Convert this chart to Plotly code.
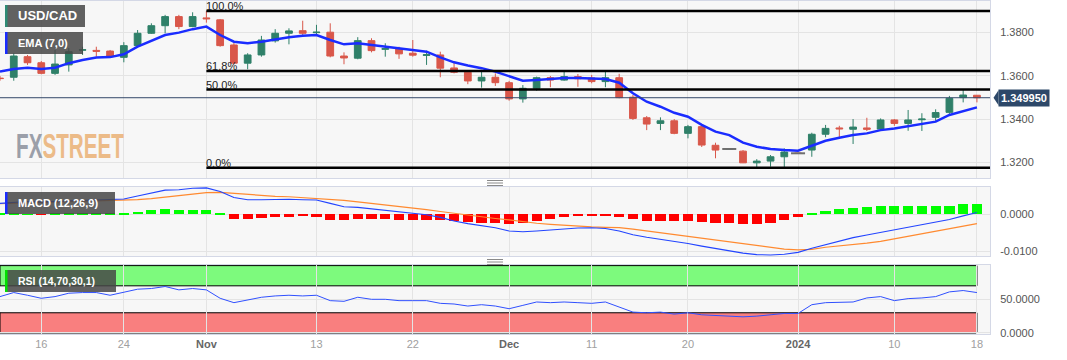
import plotly.graph_objects as go

# ---------------- data ----------------
dates = [
    "2023-10-11", "2023-10-12", "2023-10-13", "2023-10-16", "2023-10-17", "2023-10-18", "2023-10-19",
    "2023-10-20", "2023-10-23", "2023-10-24", "2023-10-25", "2023-10-26", "2023-10-27", "2023-10-30",
    "2023-10-31", "2023-11-01", "2023-11-02", "2023-11-03", "2023-11-06", "2023-11-07", "2023-11-08",
    "2023-11-09", "2023-11-10", "2023-11-13", "2023-11-14", "2023-11-15", "2023-11-16", "2023-11-17",
    "2023-11-20", "2023-11-21", "2023-11-22", "2023-11-23", "2023-11-24", "2023-11-27", "2023-11-28",
    "2023-11-29", "2023-11-30", "2023-12-01", "2023-12-04", "2023-12-05", "2023-12-06", "2023-12-07",
    "2023-12-08", "2023-12-11", "2023-12-12", "2023-12-13", "2023-12-14", "2023-12-15", "2023-12-18",
    "2023-12-19", "2023-12-20", "2023-12-21", "2023-12-22", "2023-12-25", "2023-12-26", "2023-12-27",
    "2023-12-28", "2023-12-29", "2024-01-01", "2024-01-02", "2024-01-03", "2024-01-04", "2024-01-05",
    "2024-01-08", "2024-01-09", "2024-01-10", "2024-01-11", "2024-01-12", "2024-01-15", "2024-01-16",
    "2024-01-17", "2024-01-18",
]
opens = [
    1.3590, 1.3594, 1.3689, 1.3661, 1.3612, 1.3651, 1.3719, 1.3718, 1.3715, 1.3686,
    1.3740, 1.3797, 1.3832, 1.3874, 1.3828, 1.3868, 1.3859, 1.3743, 1.3659, 1.3697,
    1.3762, 1.3797, 1.3809, 1.3800, 1.3802, 1.3692, 1.3682, 1.3763, 1.3723, 1.3725,
    1.3705, 1.3695, 1.3697, 1.3637, 1.3617, 1.3577, 1.3594, 1.3569, 1.3494, 1.3543,
    1.3592, 1.3581, 1.3597, 1.3591, 1.3574, 1.3592, 1.3502, 1.3407, 1.3381, 1.3393,
    1.3335, 1.3366, 1.3280, 1.3263, 1.3253, 1.3199, 1.3207, 1.3227, 1.3243, 1.3258,
    1.3331, 1.3360, 1.3354, 1.3360, 1.3355, 1.3397, 1.3381, 1.3398, 1.3409, 1.3432,
    1.3500, 1.3511,
]
highs = [
    1.3600, 1.3705, 1.3697, 1.3669, 1.3720, 1.3729, 1.3735, 1.3735, 1.3720, 1.3756,
    1.3812, 1.3843, 1.3882, 1.3882, 1.3894, 1.3900, 1.3863, 1.3752, 1.3705, 1.3785,
    1.3816, 1.3820, 1.3855, 1.3836, 1.3843, 1.3709, 1.3779, 1.3774, 1.3751, 1.3735,
    1.3766, 1.3717, 1.3712, 1.3666, 1.3623, 1.3620, 1.3612, 1.3577, 1.3558, 1.3597,
    1.3600, 1.3623, 1.3609, 1.3605, 1.3618, 1.3610, 1.3512, 1.3415, 1.3409, 1.3401,
    1.3374, 1.3374, 1.3292, 1.3265, 1.3258, 1.3216, 1.3235, 1.3266, 1.3245, 1.3338,
    1.3374, 1.3370, 1.3401, 1.3407, 1.3404, 1.3401, 1.3443, 1.3428, 1.3446, 1.3508,
    1.3538, 1.3512,
]
lows = [
    1.3578, 1.3578, 1.3651, 1.3608, 1.3605, 1.3620, 1.3697, 1.3689, 1.3683, 1.3663,
    1.3735, 1.3794, 1.3797, 1.3816, 1.3825, 1.3846, 1.3735, 1.3654, 1.3631, 1.3689,
    1.3754, 1.3746, 1.3789, 1.3785, 1.3686, 1.3654, 1.3677, 1.3709, 1.3689, 1.3679,
    1.3689, 1.3651, 1.3594, 1.3612, 1.3562, 1.3546, 1.3554, 1.3486, 1.3477, 1.3532,
    1.3548, 1.3578, 1.3550, 1.3566, 1.3548, 1.3497, 1.3397, 1.3350, 1.3350, 1.3331,
    1.3312, 1.3272, 1.3220, 1.3261, 1.3198, 1.3177, 1.3181, 1.3178, 1.3241, 1.3227,
    1.3317, 1.3317, 1.3286, 1.3346, 1.3350, 1.3370, 1.3347, 1.3346, 1.3393, 1.3425,
    1.3478, 1.3478,
]
closes = [
    1.3588, 1.3692, 1.3661, 1.3612, 1.3655, 1.3712, 1.3721, 1.3714, 1.3689, 1.3740,
    1.3797, 1.3832, 1.3874, 1.3828, 1.3874, 1.3864, 1.3740, 1.3659, 1.3697, 1.3766,
    1.3797, 1.3808, 1.3797, 1.3802, 1.3692, 1.3683, 1.3763, 1.3717, 1.3726, 1.3702,
    1.3696, 1.3698, 1.3636, 1.3617, 1.3577, 1.3594, 1.3569, 1.3494, 1.3543, 1.3592,
    1.3581, 1.3597, 1.3587, 1.3574, 1.3592, 1.3500, 1.3404, 1.3378, 1.3393, 1.3335,
    1.3366, 1.3281, 1.3258, 1.3263, 1.3199, 1.3207, 1.3227, 1.3249, 1.3243, 1.3331,
    1.3358, 1.3356, 1.3364, 1.3354, 1.3397, 1.3381, 1.3397, 1.3401, 1.3431, 1.3497,
    1.3512, 1.34995,
]
ema7 = [
    1.3620, 1.3632, 1.3638, 1.3632, 1.3638, 1.3659, 1.3674, 1.3685, 1.3687, 1.3700,
    1.3735, 1.3763, 1.3789, 1.3800, 1.3816, 1.3828, 1.3789, 1.3758, 1.3751, 1.3758,
    1.3770, 1.3779, 1.3786, 1.3789, 1.3766, 1.3746, 1.3751, 1.3743, 1.3735, 1.3728,
    1.3720, 1.3712, 1.3686, 1.3663, 1.3648, 1.3636, 1.3620, 1.3600, 1.3578, 1.3581,
    1.3586, 1.3591, 1.3591, 1.3588, 1.3586, 1.3569, 1.3520, 1.3481, 1.3458, 1.3430,
    1.3412, 1.3374, 1.3343, 1.3327, 1.3292, 1.3273, 1.3263, 1.3258, 1.3255, 1.3278,
    1.3301, 1.3315, 1.3327, 1.3335, 1.3350, 1.3358, 1.3369, 1.3378, 1.3389, 1.3420,
    1.3438, 1.3455,
]
macd_line = [
    0.0030, 0.0033, 0.0035, 0.0034, 0.0035, 0.0037, 0.0039, 0.0040, 0.0040, 0.0042,
    0.0050, 0.0057, 0.0066, 0.0067, 0.0071, 0.0072, 0.0062, 0.0046, 0.0040, 0.0040,
    0.0041, 0.0041, 0.0040, 0.0039, 0.0030, 0.0021, 0.0019, 0.0015, 0.0012, 0.0008,
    0.0003, -0.0001, -0.0008, -0.0018, -0.0025, -0.0030, -0.0036, -0.0045, -0.0047, -0.0045,
    -0.0042, -0.0039, -0.0037, -0.0036, -0.0038, -0.0045, -0.0055, -0.0062, -0.0067, -0.0074,
    -0.0079, -0.0086, -0.0093, -0.0099, -0.0105, -0.0109, -0.0110, -0.0108, -0.0103, -0.0092,
    -0.0082, -0.0072, -0.0063, -0.0056, -0.0049, -0.0043, -0.0037, -0.0030, -0.0022, -0.0014,
    -0.0004, 0.0005,
]
signal_line = [
    0.0029, 0.0030, 0.0031, 0.0032, 0.0033, 0.0034, 0.0035, 0.0036, 0.0037, 0.0038,
    0.0040, 0.0043, 0.0047, 0.0051, 0.0055, 0.0059, 0.0060, 0.0057, 0.0054, 0.0051,
    0.0049, 0.0048, 0.0046, 0.0044, 0.0042, 0.0038, 0.0034, 0.0030, 0.0027, 0.0023,
    0.0018, 0.0013, 0.0008, 0.0003, -0.0002, -0.0007, -0.0011, -0.0015, -0.0020, -0.0024,
    -0.0027, -0.0030, -0.0032, -0.0034, -0.0035, -0.0036, -0.0040, -0.0045, -0.0050, -0.0055,
    -0.0061, -0.0066, -0.0071, -0.0076, -0.0081, -0.0086, -0.0090, -0.0094, -0.0096, -0.0095,
    -0.0089, -0.0086, -0.0082, -0.0078, -0.0073, -0.0066, -0.0059, -0.0051, -0.0044, -0.0038,
    -0.0032, -0.0025,
]
macd_hist = [
    0.0003, 0.0003, 0.0001, -0.0001, 0.0002, 0.0003, 0.0003, 0.0003, 0.0002, 0.0003,
    0.0007, 0.0013, 0.0014, 0.0013, 0.0013, 0.0012, 0.0002, -0.0013, -0.0012, -0.0010,
    -0.0008, -0.0006, -0.0005, -0.0006, -0.0014, -0.0015, -0.0013, -0.0013, -0.0013, -0.0014,
    -0.0015, -0.0014, -0.0016, -0.0019, -0.0020, -0.0022, -0.0024, -0.0025, -0.0023, -0.0018,
    -0.0013, -0.0007, -0.0004, -0.0003, -0.0002, -0.0008, -0.0013, -0.0017, -0.0018, -0.0019,
    -0.0019, -0.0021, -0.0023, -0.0024, -0.0025, -0.0025, -0.0022, -0.0014, -0.0007, 0.0003,
    0.0008, 0.0014, 0.0018, 0.0020, 0.0022, 0.0022, 0.0022, 0.0022, 0.0022, 0.0024,
    0.0028, 0.0028,
]
rsi = [
    54, 60, 56, 51.5, 54, 59, 60, 60, 56, 60,
    65, 66, 69, 64, 66, 64, 51.5, 45, 49, 53,
    55, 56, 55, 56, 48, 47, 53, 50, 50, 48,
    48, 48, 44, 43, 40, 42, 40, 36, 41, 46,
    45, 46, 45, 44, 46, 38, 31, 30, 31, 28,
    30, 27, 26, 26, 24, 25, 27, 29, 29, 42,
    45, 45, 46, 52, 54, 48, 51, 52, 54, 61,
    63, 60,
]

last_price = 1.34995
fib_high = 1.3900
fib_low = 1.3176
fib_start = "2023-11-01"
fib_levels = [1.0, 0.618, 0.5, 0.0]
fib_labels = ["100.0%", "61.8%", "50.0%", "0.0%"]
rsi_upper, rsi_lower = 70, 30

tick_dates = ["2023-10-16", "2023-10-24", "2023-11-01", "2023-11-13", "2023-11-22", "2023-12-01",
              "2023-12-11", "2023-12-20", "2024-01-01", "2024-01-10", "2024-01-18"]
tick_labels = ["16", "24", "Nov", "13", "22", "Dec", "11", "20", "2024", "10", "18"]
major_labels = {"Nov", "Dec", "2024"}

price_ticks = [1.32, 1.34, 1.36, 1.38]
macd_ticks = [-0.01, 0.0]
macd_ticktext = ["-0.0100", "0.0000"]
rsi_ticks = [0, 50]
rsi_ticktext = ["0.0000", "50.0000"]

# ---------------- geometry helpers (pixels -> paper) ----------------
W, H = 1067, 360
ML, MR, MT, MB = 0, 77, 1, 26
PW, PH = W - ML - MR, H - MT - MB
PBOT = H - MB


def px(x):
    return (x - ML) / PW


def py(y):
    return (PBOT - y) / PH


FONT = "Liberation Sans, Arial, sans-serif"
GRID = "#e4e4e4"
FRAME = "#d4d8e6"
UP, DOWN = "#2f8069", "#d9574a"

n = len(dates)
fig = go.Figure()

# ---------- main price panel ----------
fig.add_trace(go.Candlestick(
    x=dates, open=opens, high=highs, low=lows, close=closes,
    increasing=dict(line=dict(color=UP, width=1), fillcolor=UP),
    decreasing=dict(line=dict(color=DOWN, width=1), fillcolor=DOWN),
    whiskerwidth=0, xaxis="x", yaxis="y", hoverinfo="skip",
))
flat_x = [d for d, o, c in zip(dates, opens, closes) if o == c]
flat_y = [c for o, c in zip(opens, closes) if o == c]
fig.add_trace(go.Scatter(
    x=flat_x, y=flat_y, mode="markers", xaxis="x", yaxis="y",
    marker=dict(symbol="line-ew", size=10, line=dict(color="#6f6f6f", width=2)),
    hoverinfo="skip",
))
fig.add_trace(go.Scatter(
    x=dates, y=ema7, mode="lines", xaxis="x", yaxis="y",
    line=dict(color="#1a2cff", width=2.5), hoverinfo="skip",
))

# ---------- MACD panel ----------
fig.add_trace(go.Bar(
    x=dates, y=macd_hist, xaxis="x2", yaxis="y2", width=0.74,
    marker=dict(color=["#00ff00" if v >= 0 else "#ff0000" for v in macd_hist], line=dict(width=0)),
    hoverinfo="skip",
))
fig.add_trace(go.Scatter(
    x=dates, y=signal_line, mode="lines", xaxis="x2", yaxis="y2",
    line=dict(color="#ff8a30", width=1.2), hoverinfo="skip",
))
fig.add_trace(go.Scatter(
    x=dates, y=macd_line, mode="lines", xaxis="x2", yaxis="y2",
    line=dict(color="#2244ff", width=1.1), hoverinfo="skip",
))

# ---------- RSI panel ----------
fig.add_trace(go.Scatter(
    x=dates, y=rsi, mode="lines", xaxis="x3", yaxis="y3",
    line=dict(color="#3050ff", width=1), hoverinfo="skip",
))

shapes = []
annotations = []

# Fibonacci lines
i0 = dates.index(fib_start)
for lvl, lab in zip(fib_levels, fib_labels):
    val = fib_low + (fib_high - fib_low) * lvl
    shapes.append(dict(type="line", xref="x", yref="y", x0=i0, x1=n + 5, y0=val, y1=val,
                       line=dict(color="#000000", width=2.5), layer="above"))
    annotations.append(dict(xref="x", yref="y", x=i0, y=val, xanchor="left", yanchor="bottom",
                            text=lab, showarrow=False, xshift=-1, yshift=-2.5, borderpad=0,
                            font=dict(family=FONT, size=11, color="#222222")))

# last price line
shapes.append(dict(type="line", xref="paper", yref="y", x0=0, x1=1, y0=last_price, y1=last_price,
                   line=dict(color="#34486a", width=1), layer="above"))
half = 7.5 * (price_ticks[-1] - price_ticks[0]) / (163 - 32.7)
shapes.append(dict(type="path", xref="paper", yref="y",
                   path=f"M {px(993.5)},{last_price} L {px(998.5)},{last_price + half} "
                        f"L {px(998.5)},{last_price - half} Z",
                   fillcolor="#2d4869", line=dict(width=0), layer="above"))
annotations.append(dict(xref="paper", yref="y", x=1, y=last_price, xanchor="left", yanchor="middle",
                        xshift=8, text="<b>%.6f</b>" % last_price, showarrow=False,
                        bgcolor="#2d4869", borderpad=2,
                        font=dict(family=FONT, size=11, color="#ffffff")))

# RSI bands
shapes.append(dict(type="rect", xref="x3", yref="y3", x0=0, x1=n - 1, y0=rsi_upper, y1=100,
                   fillcolor="#7dfa7d", line=dict(color="#000000", width=1), layer="below"))
shapes.append(dict(type="rect", xref="x3", yref="y3", x0=0, x1=n - 1, y0=0, y1=rsi_lower,
                   fillcolor="#f97f7f", line=dict(color="#000000", width=1), layer="below"))


# label boxes
def label_box(x0, y0, x1, y1, accent, text, size):
    shapes.append(dict(type="rect", xref="paper", yref="paper", x0=px(x0), x1=px(x1), y0=py(y1), y1=py(y0),
                       fillcolor="rgba(70,70,70,0.85)", line=dict(width=0), layer="above"))
    shapes.append(dict(type="rect", xref="paper", yref="paper", x0=px(x0), x1=px(x0 + 2.5), y0=py(y1), y1=py(y0),
                       fillcolor=accent, line=dict(width=0), layer="above"))
    annotations.append(dict(xref="paper", yref="paper", x=px(x0 + 11), y=py((y0 + y1) / 2),
                            xanchor="left", yanchor="middle", text="<b>%s</b>" % text, showarrow=False,
                            font=dict(family=FONT, size=size, color="#ffffff")))


label_box(5, 5, 85, 27, "#2e8b74", "USD/CAD", 13)
label_box(5, 32, 83, 54, "#1a2cff", "EMA (7,0)", 11)
label_box(5, 192, 115, 214, "#1a2cff", "MACD (12,26,9)", 11)
label_box(5, 270, 116, 292, "#00e000", "RSI (14,70,30,1)", 10.5)

# watermark (horizontally condensed after render)
annotations.append(dict(xref="paper", yref="paper", x=px(14), y=py(146), xanchor="left", yanchor="middle",
                        showarrow=False,
                        text='<b><span style="color:#9b9fa9">FX</span>'
                             '<span style="color:#ecbb88">STREET</span></b>',
                        font=dict(family=FONT, size=35)))

# panel separators
for yc in (183, 262):
    for dy in (-2.5, 0, 2.5):
        shapes.append(dict(type="line", xref="paper", yref="paper", x0=px(487), x1=px(503),
                           y0=py(yc + dy), y1=py(yc + dy), line=dict(color="#8a8a8a", width=1)))

ticktext = []
for t in tick_labels:
    if t in major_labels:
        ticktext.append('<b><span style="color:#666666">%s</span></b>' % t)
    else:
        ticktext.append('<span style="color:#a0a0a0">%s</span>' % t)

xcommon = dict(type="category", categoryorder="array", categoryarray=dates, range=[0, 71.95],
               tickvals=tick_dates, ticktext=ticktext, gridcolor=GRID, gridwidth=1,
               showline=True, mirror=True, linecolor=FRAME, linewidth=1, zeroline=False,
               ticks="", fixedrange=True)
ycommon = dict(side="right", gridcolor=GRID, gridwidth=1, showline=True, mirror=True,
               linecolor=FRAME, linewidth=1, zeroline=False, ticks="outside", ticklen=7,
               tickcolor="rgba(0,0,0,0)", tickfont=dict(family=FONT, size=11, color="#555555"),
               fixedrange=True)

fig.update_layout(
    width=W, height=H,
    margin=dict(l=ML, r=MR, t=MT, b=MB),
    paper_bgcolor="#ffffff", plot_bgcolor="#f7f7f7",
    showlegend=False, font=dict(family=FONT),
    xaxis=dict(xcommon, anchor="y", domain=[0, 1], showticklabels=False, rangeslider=dict(visible=False)),
    xaxis2=dict(xcommon, anchor="y2", domain=[0, 1], matches="x", showticklabels=False),
    xaxis3=dict(xcommon, anchor="y3", domain=[0, 1], matches="x", showticklabels=True,
                tickfont=dict(family=FONT, size=11)),
    yaxis=dict(ycommon, anchor="x", domain=[py(178), 1], range=[1.3129, 1.3946],
               tickvals=price_ticks, tickformat=".4f"),
    yaxis2=dict(ycommon, anchor="x2", domain=[py(256), py(187)], range=[-0.01128, 0.00744],
                tickvals=macd_ticks, ticktext=macd_ticktext),
    yaxis3=dict(ycommon, anchor="x3", domain=[0, py(265)], range=[-1.5, 100.9],
                tickvals=rsi_ticks, ticktext=rsi_ticktext),
    shapes=shapes, annotations=annotations,
    bargap=0, hovermode=False,
)

post = """
document.body.style.margin = '0';
document.body.style.padding = '0';
var gd = document.getElementById('{plot_id}');
function squeezeWatermark() {
  gd.querySelectorAll('text.annotation-text').forEach(function (t) {
    if (t.textContent === 'FXSTREET' && !t.getAttribute('data-sq')) {
      var b = t.getBBox();
      t.setAttribute('transform', 'translate(' + b.x + ',0) scale(0.59,1) translate(' + (-b.x) + ',0)');
      t.setAttribute('data-sq', '1');
    }
  });
}
squeezeWatermark();
"""

fig.write_html("out.html", config={"displayModeBar": False}, post_script=post)
